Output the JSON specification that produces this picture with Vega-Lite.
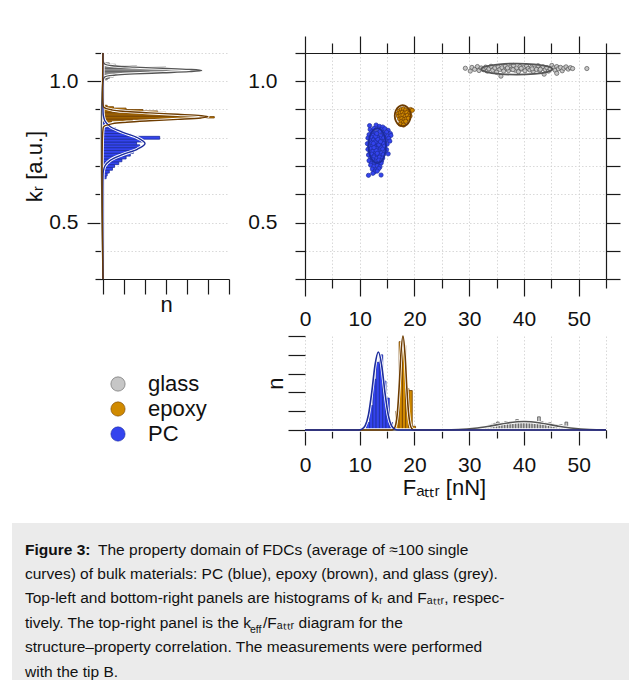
{
  "$schema": "https://vega.github.io/schema/vega-lite/v6.json",
  "background": "white",
  "padding": {"left": 12, "top": 35, "right": 0, "bottom": 0},
  "autosize": {"type": "pad"},
  "config": {
    "font": "Liberation Sans",
    "view": {"stroke": null},
    "axis": {
      "labelFont": "Liberation Sans", "titleFont": "Liberation Sans",
      "labelFontSize": 21, "titleFontSize": 22, "titleFontWeight": "normal",
      "labelColor": "#111", "titleColor": "#111",
      "domainColor": "#1a1a1a", "tickColor": "#1a1a1a", "domainWidth": 1.2, "tickWidth": 1.2,
      "gridColor": "#cfcfcf", "gridDash": [1.5, 2], "gridWidth": 0.8,
      "labelFlush": false, "labelOverlap": false, "labelBound": false
    }
  },
  "datasets": {
    "mats": [{"mat": "glass"}, {"mat": "epoxy"}, {"mat": "PC"}],
    "kHist": [
      {"mat": "glass", "lo": 1.005, "hi": 1.01, "n": 0.2},
      {"mat": "glass", "lo": 1.01, "hi": 1.015, "n": 0.3},
      {"mat": "glass", "lo": 1.015, "hi": 1.02, "n": 0.5},
      {"mat": "glass", "lo": 1.02, "hi": 1.025, "n": 0.6},
      {"mat": "glass", "lo": 1.025, "hi": 1.03, "n": 0.9},
      {"mat": "glass", "lo": 1.03, "hi": 1.035, "n": 2.2},
      {"mat": "glass", "lo": 1.035, "hi": 1.04, "n": 4.7},
      {"mat": "glass", "lo": 1.04, "hi": 1.045, "n": 3.9},
      {"mat": "glass", "lo": 1.045, "hi": 1.05, "n": 3.0},
      {"mat": "glass", "lo": 1.05, "hi": 1.055, "n": 1.6},
      {"mat": "glass", "lo": 1.055, "hi": 1.06, "n": 0.6},
      {"mat": "glass", "lo": 1.06, "hi": 1.065, "n": 0.3},
      {"mat": "epoxy", "lo": 0.855, "hi": 0.86, "n": 0.4},
      {"mat": "epoxy", "lo": 0.86, "hi": 0.865, "n": 1.4},
      {"mat": "epoxy", "lo": 0.865, "hi": 0.87, "n": 3.2},
      {"mat": "epoxy", "lo": 0.87, "hi": 0.875, "n": 5.3},
      {"mat": "epoxy", "lo": 0.875, "hi": 0.88, "n": 4.5},
      {"mat": "epoxy", "lo": 0.88, "hi": 0.885, "n": 3.6},
      {"mat": "epoxy", "lo": 0.885, "hi": 0.89, "n": 3.0},
      {"mat": "epoxy", "lo": 0.89, "hi": 0.895, "n": 2.6},
      {"mat": "epoxy", "lo": 0.895, "hi": 0.9, "n": 1.9},
      {"mat": "epoxy", "lo": 0.9, "hi": 0.905, "n": 1.1},
      {"mat": "epoxy", "lo": 0.905, "hi": 0.91, "n": 0.5},
      {"mat": "epoxy", "lo": 0.91, "hi": 0.915, "n": 0.2},
      {"mat": "PC", "lo": 0.655, "hi": 0.665, "n": 0.15},
      {"mat": "PC", "lo": 0.665, "hi": 0.675, "n": 0.2},
      {"mat": "PC", "lo": 0.675, "hi": 0.685, "n": 0.3},
      {"mat": "PC", "lo": 0.685, "hi": 0.695, "n": 0.45},
      {"mat": "PC", "lo": 0.695, "hi": 0.705, "n": 0.55},
      {"mat": "PC", "lo": 0.705, "hi": 0.715, "n": 0.75},
      {"mat": "PC", "lo": 0.715, "hi": 0.725, "n": 0.9},
      {"mat": "PC", "lo": 0.725, "hi": 0.735, "n": 1.1},
      {"mat": "PC", "lo": 0.735, "hi": 0.745, "n": 1.3},
      {"mat": "PC", "lo": 0.745, "hi": 0.755, "n": 1.45},
      {"mat": "PC", "lo": 0.755, "hi": 0.765, "n": 1.6},
      {"mat": "PC", "lo": 0.765, "hi": 0.775, "n": 1.75},
      {"mat": "PC", "lo": 0.775, "hi": 0.785, "n": 1.6},
      {"mat": "PC", "lo": 0.785, "hi": 0.795, "n": 1.9},
      {"mat": "PC", "lo": 0.795, "hi": 0.805, "n": 2.7},
      {"mat": "PC", "lo": 0.805, "hi": 0.815, "n": 1.3},
      {"mat": "PC", "lo": 0.815, "hi": 0.825, "n": 0.9},
      {"mat": "PC", "lo": 0.825, "hi": 0.835, "n": 0.6},
      {"mat": "PC", "lo": 0.835, "hi": 0.845, "n": 0.3},
      {"mat": "PC", "lo": 0.845, "hi": 0.855, "n": 0.1}
    ],
    "kFit": [
      {"mat": "glass", "k": 0.3, "n": 0},
      {"mat": "glass", "k": 1.0, "n": 0},
      {"mat": "glass", "k": 1.015, "n": 0.08},
      {"mat": "glass", "k": 1.022, "n": 0.6},
      {"mat": "glass", "k": 1.026, "n": 1.5},
      {"mat": "glass", "k": 1.03, "n": 2.85},
      {"mat": "glass", "k": 1.034, "n": 4.1},
      {"mat": "glass", "k": 1.038, "n": 4.7},
      {"mat": "glass", "k": 1.042, "n": 4.1},
      {"mat": "glass", "k": 1.046, "n": 2.85},
      {"mat": "glass", "k": 1.05, "n": 1.5},
      {"mat": "glass", "k": 1.054, "n": 0.6},
      {"mat": "glass", "k": 1.061, "n": 0.08},
      {"mat": "glass", "k": 1.075, "n": 0},
      {"mat": "glass", "k": 1.1, "n": 0},
      {"mat": "PC", "k": 0.3, "n": 0},
      {"mat": "PC", "k": 0.66, "n": 0},
      {"mat": "PC", "k": 0.68, "n": 0.015},
      {"mat": "PC", "k": 0.7, "n": 0.088},
      {"mat": "PC", "k": 0.72, "n": 0.34},
      {"mat": "PC", "k": 0.74, "n": 0.92},
      {"mat": "PC", "k": 0.76, "n": 1.65},
      {"mat": "PC", "k": 0.78, "n": 2.0},
      {"mat": "PC", "k": 0.8, "n": 1.65},
      {"mat": "PC", "k": 0.82, "n": 0.92},
      {"mat": "PC", "k": 0.84, "n": 0.34},
      {"mat": "PC", "k": 0.86, "n": 0.088},
      {"mat": "PC", "k": 0.88, "n": 0.015},
      {"mat": "PC", "k": 0.9, "n": 0},
      {"mat": "PC", "k": 1.1, "n": 0},
      {"mat": "epoxy", "k": 0.3, "n": 0},
      {"mat": "epoxy", "k": 0.83, "n": 0},
      {"mat": "epoxy", "k": 0.84, "n": 0.04},
      {"mat": "epoxy", "k": 0.85, "n": 0.46},
      {"mat": "epoxy", "k": 0.855, "n": 1.13},
      {"mat": "epoxy", "k": 0.86, "n": 2.22},
      {"mat": "epoxy", "k": 0.865, "n": 3.56},
      {"mat": "epoxy", "k": 0.87, "n": 4.67},
      {"mat": "epoxy", "k": 0.874, "n": 5.0},
      {"mat": "epoxy", "k": 0.878, "n": 4.67},
      {"mat": "epoxy", "k": 0.883, "n": 3.56},
      {"mat": "epoxy", "k": 0.888, "n": 2.22},
      {"mat": "epoxy", "k": 0.893, "n": 1.13},
      {"mat": "epoxy", "k": 0.898, "n": 0.46},
      {"mat": "epoxy", "k": 0.908, "n": 0.04},
      {"mat": "epoxy", "k": 0.92, "n": 0},
      {"mat": "epoxy", "k": 1.1, "n": 0}
    ],
    "fHist": [
      {"mat": "glass", "lo": 29.0, "hi": 29.5, "n": 0.05},
      {"mat": "glass", "lo": 29.5, "hi": 30.0, "n": 0.08},
      {"mat": "glass", "lo": 30.0, "hi": 30.5, "n": 0.05},
      {"mat": "glass", "lo": 30.5, "hi": 31.0, "n": 0.1},
      {"mat": "glass", "lo": 31.0, "hi": 31.5, "n": 0.1},
      {"mat": "glass", "lo": 31.5, "hi": 32.0, "n": 0.12},
      {"mat": "glass", "lo": 32.0, "hi": 32.5, "n": 0.15},
      {"mat": "glass", "lo": 32.5, "hi": 33.0, "n": 0.18},
      {"mat": "glass", "lo": 33.0, "hi": 33.5, "n": 0.2},
      {"mat": "glass", "lo": 33.5, "hi": 34.0, "n": 0.25},
      {"mat": "glass", "lo": 34.0, "hi": 34.5, "n": 0.3},
      {"mat": "glass", "lo": 34.5, "hi": 35.0, "n": 0.35},
      {"mat": "glass", "lo": 35.0, "hi": 35.5, "n": 0.42},
      {"mat": "glass", "lo": 35.5, "hi": 36.0, "n": 0.32},
      {"mat": "glass", "lo": 36.0, "hi": 36.5, "n": 0.4},
      {"mat": "glass", "lo": 36.5, "hi": 37.0, "n": 0.45},
      {"mat": "glass", "lo": 37.0, "hi": 37.5, "n": 0.4},
      {"mat": "glass", "lo": 37.5, "hi": 38.0, "n": 0.45},
      {"mat": "glass", "lo": 38.0, "hi": 38.5, "n": 0.4},
      {"mat": "glass", "lo": 38.5, "hi": 39.0, "n": 0.55},
      {"mat": "glass", "lo": 39.0, "hi": 39.5, "n": 0.45},
      {"mat": "glass", "lo": 39.5, "hi": 40.0, "n": 0.42},
      {"mat": "glass", "lo": 40.0, "hi": 40.5, "n": 0.48},
      {"mat": "glass", "lo": 40.5, "hi": 41.0, "n": 0.45},
      {"mat": "glass", "lo": 41.0, "hi": 41.5, "n": 0.4},
      {"mat": "glass", "lo": 41.5, "hi": 42.0, "n": 0.45},
      {"mat": "glass", "lo": 42.0, "hi": 42.5, "n": 0.42},
      {"mat": "glass", "lo": 42.5, "hi": 43.0, "n": 0.7},
      {"mat": "glass", "lo": 43.0, "hi": 43.5, "n": 0.45},
      {"mat": "glass", "lo": 43.5, "hi": 44.0, "n": 0.4},
      {"mat": "glass", "lo": 44.0, "hi": 44.5, "n": 0.35},
      {"mat": "glass", "lo": 44.5, "hi": 45.0, "n": 0.38},
      {"mat": "glass", "lo": 45.0, "hi": 45.5, "n": 0.3},
      {"mat": "glass", "lo": 45.5, "hi": 46.0, "n": 0.28},
      {"mat": "glass", "lo": 46.0, "hi": 46.5, "n": 0.25},
      {"mat": "glass", "lo": 46.5, "hi": 47.0, "n": 0.28},
      {"mat": "glass", "lo": 47.0, "hi": 47.5, "n": 0.22},
      {"mat": "glass", "lo": 47.5, "hi": 48.0, "n": 0.42},
      {"mat": "glass", "lo": 48.0, "hi": 48.5, "n": 0.15},
      {"mat": "glass", "lo": 48.5, "hi": 49.0, "n": 0.1},
      {"mat": "glass", "lo": 49.0, "hi": 49.5, "n": 0.05},
      {"mat": "epoxy", "lo": 16.6, "hi": 17.2, "n": 1.0},
      {"mat": "epoxy", "lo": 17.2, "hi": 17.8, "n": 4.7},
      {"mat": "epoxy", "lo": 17.8, "hi": 18.4, "n": 4.5},
      {"mat": "epoxy", "lo": 18.4, "hi": 19.0, "n": 2.2},
      {"mat": "epoxy", "lo": 19.0, "hi": 19.6, "n": 2.1},
      {"mat": "epoxy", "lo": 19.6, "hi": 20.2, "n": 0.2},
      {"mat": "PC", "lo": 11.2, "hi": 11.8, "n": 0.4},
      {"mat": "PC", "lo": 11.8, "hi": 12.4, "n": 1.3},
      {"mat": "PC", "lo": 12.4, "hi": 13.0, "n": 2.7},
      {"mat": "PC", "lo": 13.0, "hi": 13.6, "n": 3.6},
      {"mat": "PC", "lo": 13.6, "hi": 14.2, "n": 4.0},
      {"mat": "PC", "lo": 14.2, "hi": 14.8, "n": 2.6},
      {"mat": "PC", "lo": 14.8, "hi": 15.4, "n": 1.7},
      {"mat": "PC", "lo": 15.4, "hi": 16.0, "n": 0.4}
    ],
    "fFit": [
      {"mat": "glass", "F": 0, "n": 0},
      {"mat": "glass", "F": 22, "n": 0},
      {"mat": "glass", "F": 25, "n": 0.005},
      {"mat": "glass", "F": 28, "n": 0.025},
      {"mat": "glass", "F": 31, "n": 0.09},
      {"mat": "glass", "F": 34, "n": 0.22},
      {"mat": "glass", "F": 37, "n": 0.375},
      {"mat": "glass", "F": 40, "n": 0.45},
      {"mat": "glass", "F": 43, "n": 0.375},
      {"mat": "glass", "F": 46, "n": 0.22},
      {"mat": "glass", "F": 49, "n": 0.09},
      {"mat": "glass", "F": 52, "n": 0.025},
      {"mat": "glass", "F": 55, "n": 0.005},
      {"mat": "epoxy", "F": 0, "n": 0},
      {"mat": "epoxy", "F": 15.8, "n": 0},
      {"mat": "epoxy", "F": 16.25, "n": 0.06},
      {"mat": "epoxy", "F": 16.6, "n": 0.31},
      {"mat": "epoxy", "F": 16.9, "n": 0.98},
      {"mat": "epoxy", "F": 17.2, "n": 2.27},
      {"mat": "epoxy", "F": 17.5, "n": 3.92},
      {"mat": "epoxy", "F": 17.9, "n": 5.0},
      {"mat": "epoxy", "F": 18.3, "n": 3.92},
      {"mat": "epoxy", "F": 18.6, "n": 2.27},
      {"mat": "epoxy", "F": 18.9, "n": 0.98},
      {"mat": "epoxy", "F": 19.2, "n": 0.31},
      {"mat": "epoxy", "F": 19.55, "n": 0.06},
      {"mat": "epoxy", "F": 20.0, "n": 0},
      {"mat": "epoxy", "F": 55, "n": 0},
      {"mat": "PC", "F": 0, "n": 0},
      {"mat": "PC", "F": 9.8, "n": 0},
      {"mat": "PC", "F": 10.4, "n": 0.046},
      {"mat": "PC", "F": 11.0, "n": 0.23},
      {"mat": "PC", "F": 11.6, "n": 0.82},
      {"mat": "PC", "F": 12.2, "n": 2.02},
      {"mat": "PC", "F": 12.8, "n": 3.47},
      {"mat": "PC", "F": 13.4, "n": 4.15},
      {"mat": "PC", "F": 14.0, "n": 3.47},
      {"mat": "PC", "F": 14.6, "n": 2.02},
      {"mat": "PC", "F": 15.2, "n": 0.82},
      {"mat": "PC", "F": 15.8, "n": 0.23},
      {"mat": "PC", "F": 16.4, "n": 0.046},
      {"mat": "PC", "F": 17.0, "n": 0},
      {"mat": "PC", "F": 55, "n": 0}
    ],
    "pts": [
      {"mat": "glass", "F": 29.3, "k": 1.046}, {"mat": "glass", "F": 30.2, "k": 1.036}, {"mat": "glass", "F": 30.5, "k": 1.049},
      {"mat": "glass", "F": 31.0, "k": 1.042}, {"mat": "glass", "F": 31.5, "k": 1.052}, {"mat": "glass", "F": 31.8, "k": 1.038},
      {"mat": "glass", "F": 32.2, "k": 1.047}, {"mat": "glass", "F": 32.6, "k": 1.041}, {"mat": "glass", "F": 33.0, "k": 1.05},
      {"mat": "glass", "F": 33.3, "k": 1.036}, {"mat": "glass", "F": 33.6, "k": 1.044}, {"mat": "glass", "F": 34.0, "k": 1.053},
      {"mat": "glass", "F": 34.3, "k": 1.039}, {"mat": "glass", "F": 34.7, "k": 1.047}, {"mat": "glass", "F": 35.0, "k": 1.032},
      {"mat": "glass", "F": 35.3, "k": 1.051}, {"mat": "glass", "F": 35.6, "k": 1.042}, {"mat": "glass", "F": 35.8, "k": 1.018},
      {"mat": "glass", "F": 36.0, "k": 1.048}, {"mat": "glass", "F": 36.3, "k": 1.036}, {"mat": "glass", "F": 36.6, "k": 1.054},
      {"mat": "glass", "F": 36.9, "k": 1.044}, {"mat": "glass", "F": 37.2, "k": 1.038}, {"mat": "glass", "F": 37.5, "k": 1.05},
      {"mat": "glass", "F": 37.8, "k": 1.043}, {"mat": "glass", "F": 38.1, "k": 1.056}, {"mat": "glass", "F": 38.4, "k": 1.039},
      {"mat": "glass", "F": 38.7, "k": 1.047}, {"mat": "glass", "F": 39.0, "k": 1.034}, {"mat": "glass", "F": 39.3, "k": 1.052},
      {"mat": "glass", "F": 39.6, "k": 1.043}, {"mat": "glass", "F": 39.9, "k": 1.048}, {"mat": "glass", "F": 40.2, "k": 1.037},
      {"mat": "glass", "F": 40.5, "k": 1.054}, {"mat": "glass", "F": 40.8, "k": 1.045}, {"mat": "glass", "F": 41.1, "k": 1.04},
      {"mat": "glass", "F": 41.4, "k": 1.05}, {"mat": "glass", "F": 41.7, "k": 1.035}, {"mat": "glass", "F": 42.0, "k": 1.047},
      {"mat": "glass", "F": 42.3, "k": 1.042}, {"mat": "glass", "F": 42.6, "k": 1.055}, {"mat": "glass", "F": 42.9, "k": 1.038},
      {"mat": "glass", "F": 43.2, "k": 1.046}, {"mat": "glass", "F": 43.5, "k": 1.051}, {"mat": "glass", "F": 43.7, "k": 1.025},
      {"mat": "glass", "F": 43.9, "k": 1.041}, {"mat": "glass", "F": 44.2, "k": 1.048}, {"mat": "glass", "F": 44.5, "k": 1.036},
      {"mat": "glass", "F": 44.8, "k": 1.044}, {"mat": "glass", "F": 45.1, "k": 1.056}, {"mat": "glass", "F": 45.4, "k": 1.047},
      {"mat": "glass", "F": 45.7, "k": 1.039}, {"mat": "glass", "F": 46.0, "k": 1.052}, {"mat": "glass", "F": 46.0, "k": 1.028},
      {"mat": "glass", "F": 46.3, "k": 1.044}, {"mat": "glass", "F": 46.7, "k": 1.049}, {"mat": "glass", "F": 47.0, "k": 1.037},
      {"mat": "glass", "F": 47.3, "k": 1.046}, {"mat": "glass", "F": 47.7, "k": 1.051}, {"mat": "glass", "F": 48.1, "k": 1.043},
      {"mat": "glass", "F": 48.5, "k": 1.048}, {"mat": "glass", "F": 48.9, "k": 1.045}, {"mat": "glass", "F": 51.5, "k": 1.045},
      {"mat": "glass", "F": 37.0, "k": 1.047}, {"mat": "glass", "F": 39.5, "k": 1.046}, {"mat": "glass", "F": 41.5, "k": 1.044},
      {"mat": "glass", "F": 43.0, "k": 1.042}, {"mat": "glass", "F": 38.0, "k": 1.041},
      {"mat": "epoxy", "F": 17.2, "k": 0.895}, {"mat": "epoxy", "F": 17.6, "k": 0.9}, {"mat": "epoxy", "F": 18.0, "k": 0.902},
      {"mat": "epoxy", "F": 18.4, "k": 0.898}, {"mat": "epoxy", "F": 18.9, "k": 0.895}, {"mat": "epoxy", "F": 19.3, "k": 0.9},
      {"mat": "epoxy", "F": 19.6, "k": 0.897}, {"mat": "epoxy", "F": 17.0, "k": 0.885}, {"mat": "epoxy", "F": 17.4, "k": 0.888},
      {"mat": "epoxy", "F": 17.8, "k": 0.89}, {"mat": "epoxy", "F": 18.2, "k": 0.887}, {"mat": "epoxy", "F": 18.6, "k": 0.889},
      {"mat": "epoxy", "F": 19.1, "k": 0.886}, {"mat": "epoxy", "F": 17.1, "k": 0.876}, {"mat": "epoxy", "F": 17.5, "k": 0.878},
      {"mat": "epoxy", "F": 17.9, "k": 0.88}, {"mat": "epoxy", "F": 18.3, "k": 0.876}, {"mat": "epoxy", "F": 18.7, "k": 0.879},
      {"mat": "epoxy", "F": 19.2, "k": 0.877}, {"mat": "epoxy", "F": 17.3, "k": 0.866}, {"mat": "epoxy", "F": 17.7, "k": 0.868},
      {"mat": "epoxy", "F": 18.1, "k": 0.865}, {"mat": "epoxy", "F": 18.5, "k": 0.867}, {"mat": "epoxy", "F": 18.9, "k": 0.869},
      {"mat": "epoxy", "F": 17.6, "k": 0.857}, {"mat": "epoxy", "F": 18.0, "k": 0.855}, {"mat": "epoxy", "F": 18.4, "k": 0.858},
      {"mat": "epoxy", "F": 17.4, "k": 0.848}, {"mat": "epoxy", "F": 18.0, "k": 0.845},
      {"mat": "PC", "F": 11.8, "k": 0.843}, {"mat": "PC", "F": 13.0, "k": 0.845}, {"mat": "PC", "F": 13.6, "k": 0.84}, {"mat": "PC", "F": 14.2, "k": 0.838},
      {"mat": "PC", "F": 11.9, "k": 0.829}, {"mat": "PC", "F": 12.6, "k": 0.833}, {"mat": "PC", "F": 13.4, "k": 0.831}, {"mat": "PC", "F": 14.0, "k": 0.828}, {"mat": "PC", "F": 14.6, "k": 0.832}, {"mat": "PC", "F": 15.2, "k": 0.826},
      {"mat": "PC", "F": 12.2, "k": 0.821}, {"mat": "PC", "F": 12.9, "k": 0.818}, {"mat": "PC", "F": 13.7, "k": 0.822}, {"mat": "PC", "F": 14.3, "k": 0.817}, {"mat": "PC", "F": 14.9, "k": 0.82}, {"mat": "PC", "F": 15.6, "k": 0.815},
      {"mat": "PC", "F": 11.7, "k": 0.811}, {"mat": "PC", "F": 12.4, "k": 0.808}, {"mat": "PC", "F": 13.1, "k": 0.812}, {"mat": "PC", "F": 13.9, "k": 0.807}, {"mat": "PC", "F": 14.5, "k": 0.81}, {"mat": "PC", "F": 15.1, "k": 0.806}, {"mat": "PC", "F": 15.7, "k": 0.808},
      {"mat": "PC", "F": 11.5, "k": 0.799}, {"mat": "PC", "F": 12.1, "k": 0.802}, {"mat": "PC", "F": 12.7, "k": 0.797}, {"mat": "PC", "F": 13.3, "k": 0.801}, {"mat": "PC", "F": 13.8, "k": 0.796}, {"mat": "PC", "F": 14.4, "k": 0.8}, {"mat": "PC", "F": 15.3, "k": 0.798},
      {"mat": "PC", "F": 11.9, "k": 0.789}, {"mat": "PC", "F": 12.5, "k": 0.792}, {"mat": "PC", "F": 13.0, "k": 0.787}, {"mat": "PC", "F": 13.5, "k": 0.791}, {"mat": "PC", "F": 14.1, "k": 0.786}, {"mat": "PC", "F": 14.7, "k": 0.79}, {"mat": "PC", "F": 15.5, "k": 0.788},
      {"mat": "PC", "F": 11.4, "k": 0.779}, {"mat": "PC", "F": 12.2, "k": 0.782}, {"mat": "PC", "F": 12.7, "k": 0.776}, {"mat": "PC", "F": 13.2, "k": 0.781}, {"mat": "PC", "F": 13.7, "k": 0.777}, {"mat": "PC", "F": 14.3, "k": 0.78}, {"mat": "PC", "F": 15.0, "k": 0.777},
      {"mat": "PC", "F": 11.8, "k": 0.769}, {"mat": "PC", "F": 12.4, "k": 0.772}, {"mat": "PC", "F": 12.9, "k": 0.767}, {"mat": "PC", "F": 13.4, "k": 0.771}, {"mat": "PC", "F": 13.9, "k": 0.766}, {"mat": "PC", "F": 14.5, "k": 0.77},
      {"mat": "PC", "F": 11.5, "k": 0.759}, {"mat": "PC", "F": 12.1, "k": 0.762}, {"mat": "PC", "F": 12.6, "k": 0.757}, {"mat": "PC", "F": 13.1, "k": 0.761}, {"mat": "PC", "F": 13.6, "k": 0.756}, {"mat": "PC", "F": 14.2, "k": 0.76}, {"mat": "PC", "F": 14.9, "k": 0.758},
      {"mat": "PC", "F": 11.9, "k": 0.749}, {"mat": "PC", "F": 12.4, "k": 0.752}, {"mat": "PC", "F": 12.9, "k": 0.747}, {"mat": "PC", "F": 13.4, "k": 0.751}, {"mat": "PC", "F": 13.9, "k": 0.746}, {"mat": "PC", "F": 14.6, "k": 0.75},
      {"mat": "PC", "F": 11.6, "k": 0.739}, {"mat": "PC", "F": 12.2, "k": 0.742}, {"mat": "PC", "F": 12.7, "k": 0.737}, {"mat": "PC", "F": 13.2, "k": 0.741}, {"mat": "PC", "F": 13.7, "k": 0.736}, {"mat": "PC", "F": 14.3, "k": 0.74}, {"mat": "PC", "F": 15.2, "k": 0.743},
      {"mat": "PC", "F": 12.0, "k": 0.729}, {"mat": "PC", "F": 12.6, "k": 0.732}, {"mat": "PC", "F": 13.1, "k": 0.727}, {"mat": "PC", "F": 13.6, "k": 0.731}, {"mat": "PC", "F": 14.2, "k": 0.728},
      {"mat": "PC", "F": 11.7, "k": 0.719}, {"mat": "PC", "F": 12.4, "k": 0.722}, {"mat": "PC", "F": 12.9, "k": 0.717}, {"mat": "PC", "F": 13.5, "k": 0.721}, {"mat": "PC", "F": 14.0, "k": 0.718},
      {"mat": "PC", "F": 12.1, "k": 0.709}, {"mat": "PC", "F": 12.7, "k": 0.712}, {"mat": "PC", "F": 13.3, "k": 0.707}, {"mat": "PC", "F": 13.9, "k": 0.71},
      {"mat": "PC", "F": 12.0, "k": 0.703}, {"mat": "PC", "F": 12.6, "k": 0.699}, {"mat": "PC", "F": 13.2, "k": 0.701}, {"mat": "PC", "F": 13.7, "k": 0.697},
      {"mat": "PC", "F": 12.3, "k": 0.689}, {"mat": "PC", "F": 12.9, "k": 0.686}, {"mat": "PC", "F": 13.5, "k": 0.691},
      {"mat": "PC", "F": 12.7, "k": 0.679}, {"mat": "PC", "F": 13.2, "k": 0.682},
      {"mat": "PC", "F": 11.6, "k": 0.667}, {"mat": "PC", "F": 13.9, "k": 0.668}, {"mat": "PC", "F": 12.4, "k": 0.674},
      {"mat": "PC", "F": 12.8, "k": 0.785}, {"mat": "PC", "F": 13.0, "k": 0.755}, {"mat": "PC", "F": 13.3, "k": 0.795}, {"mat": "PC", "F": 12.6, "k": 0.765},
      {"mat": "PC", "F": 13.5, "k": 0.775}, {"mat": "PC", "F": 12.9, "k": 0.805}, {"mat": "PC", "F": 13.2, "k": 0.745}, {"mat": "PC", "F": 12.5, "k": 0.78},
      {"mat": "PC", "F": 13.8, "k": 0.786}, {"mat": "PC", "F": 13.1, "k": 0.815}
    ],
    "ell": [
      {"mat": "glass", "i": 0, "F": 45.2, "k": 1.043}, {"mat": "glass", "i": 1, "F": 44.33, "k": 1.0528},
      {"mat": "glass", "i": 2, "F": 41.95, "k": 1.0599}, {"mat": "glass", "i": 3, "F": 38.7, "k": 1.0625},
      {"mat": "glass", "i": 4, "F": 35.45, "k": 1.0599}, {"mat": "glass", "i": 5, "F": 33.07, "k": 1.0528},
      {"mat": "glass", "i": 6, "F": 32.2, "k": 1.043}, {"mat": "glass", "i": 7, "F": 33.07, "k": 1.0333},
      {"mat": "glass", "i": 8, "F": 35.45, "k": 1.0261}, {"mat": "glass", "i": 9, "F": 38.7, "k": 1.0235},
      {"mat": "glass", "i": 10, "F": 41.95, "k": 1.0261}, {"mat": "glass", "i": 11, "F": 44.33, "k": 1.0333},
      {"mat": "epoxy", "i": 0, "F": 19.3, "k": 0.878}, {"mat": "epoxy", "i": 1, "F": 19.106, "k": 0.8965},
      {"mat": "epoxy", "i": 2, "F": 18.575, "k": 0.91}, {"mat": "epoxy", "i": 3, "F": 17.85, "k": 0.915},
      {"mat": "epoxy", "i": 4, "F": 17.125, "k": 0.91}, {"mat": "epoxy", "i": 5, "F": 16.594, "k": 0.8965},
      {"mat": "epoxy", "i": 6, "F": 16.4, "k": 0.878}, {"mat": "epoxy", "i": 7, "F": 16.594, "k": 0.8595},
      {"mat": "epoxy", "i": 8, "F": 17.125, "k": 0.846}, {"mat": "epoxy", "i": 9, "F": 17.85, "k": 0.841},
      {"mat": "epoxy", "i": 10, "F": 18.575, "k": 0.846}, {"mat": "epoxy", "i": 11, "F": 19.106, "k": 0.8595},
      {"mat": "PC", "i": 0, "F": 14.8, "k": 0.772}, {"mat": "PC", "i": 1, "F": 14.586, "k": 0.803},
      {"mat": "PC", "i": 2, "F": 14.0, "k": 0.8257}, {"mat": "PC", "i": 3, "F": 13.2, "k": 0.834},
      {"mat": "PC", "i": 4, "F": 12.4, "k": 0.8257}, {"mat": "PC", "i": 5, "F": 11.814, "k": 0.803},
      {"mat": "PC", "i": 6, "F": 11.6, "k": 0.772}, {"mat": "PC", "i": 7, "F": 11.814, "k": 0.741},
      {"mat": "PC", "i": 8, "F": 12.4, "k": 0.7183}, {"mat": "PC", "i": 9, "F": 13.2, "k": 0.71},
      {"mat": "PC", "i": 10, "F": 14.0, "k": 0.7183}, {"mat": "PC", "i": 11, "F": 14.586, "k": 0.741}
    ],
    "capBold": [{"line": 1, "text": "Figure 3:"}],
    "capFirst": [{"line": 1, "text": "The property domain of FDCs (average of ≈100 single"}],
    "capLines": [
      {"line": 2, "text": "curves) of bulk materials: PC (blue), epoxy (brown), and glass (grey)."},
      {"line": 3, "text": "Top-left and bottom-right panels are histograms of kᵣ and Fₐₜₜᵣ, respec-"},
      {"line": 4, "text": "tively. The top-right panel is the k"},
      {"line": 5, "text": "structure–property correlation. The measurements were performed"},
      {"line": 6, "text": "with the tip B."}
    ],
    "capSub": [{"line": 4, "text": "eff"}],
    "capAfter": [{"line": 4, "text": "/Fₐₜₜᵣ diagram for the"}],
    "empty": []
  },
  "resolve": {"scale": {"x": "independent", "y": "independent", "fill": "shared", "stroke": "shared"}},
  "bounds": "full",
  "spacing": 25,
  "vconcat": [
    {
      "columns": 3,
      "bounds": "flush",
      "spacing": {"row": 57, "column": 76},
      "resolve": {"scale": {"x": "independent", "y": "independent", "fill": "shared", "stroke": "shared"}},
      "concat": [
        {"width": 15, "height": 226, "data": {"name": "empty"}, "mark": "point"},
        {
          "width": 126, "height": 226,
          "resolve": {"axis": {"x": "independent", "y": "independent"}},
          "layer": [
            {
              "data": {"name": "kHist"},
              "mark": {"type": "bar", "orient": "horizontal", "strokeWidth": 0.8},
              "encoding": {
                "y": {"field": "lo", "type": "quantitative",
                  "scale": {"domain": [0.3, 1.1], "nice": false, "zero": false, "padding": 0},
                  "axis": {"orient": "left", "values": [0.3, 0.4, 0.5, 0.6, 0.7, 0.8, 0.9, 1.0, 1.1], "grid": true,
                    "tickSize": {"condition": {"test": "abs(datum.value - 0.5) < 0.001 || abs(datum.value - 1) < 0.001", "value": 16}, "value": 8},
                    "labelExpr": "(abs(datum.value - 0.5) < 0.001 || abs(datum.value - 1) < 0.001) ? format(datum.value, '.1f') : ''",
                    "labelPadding": 9, "title": "kᵣ [a.u.]", "titlePadding": 2}},
                "y2": {"field": "hi"},
                "x": {"field": "n", "type": "quantitative", "scale": {"domain": [0, 6], "nice": false, "padding": 0},
                  "axis": {"orient": "bottom", "values": [0, 1, 2, 3, 4, 5, 6], "labels": false, "grid": false, "tickSize": 15, "title": "n", "titlePadding": 0}},
                "fill": {"field": "mat", "type": "nominal", "scale": {"domain": ["glass", "epoxy", "PC"], "range": ["#c6c6c6", "#d08a00", "#3444ee"]}, "legend": null},
                "stroke": {"field": "mat", "type": "nominal", "scale": {"domain": ["glass", "epoxy", "PC"], "range": ["#555555", "#6e3c00", "#1c2c9c"]}, "legend": null}
              }
            },
            {
              "data": {"name": "kFit"},
              "mark": {"type": "line", "interpolate": "catmull-rom", "color": "white", "strokeWidth": 3.2},
              "encoding": {
                "x": {"field": "n", "type": "quantitative", "axis": null},
                "y": {"field": "k", "type": "quantitative", "axis": null},
                "detail": {"field": "mat"},
                "order": {"field": "k"}
              }
            },
            {
              "data": {"name": "kFit"},
              "mark": {"type": "line", "interpolate": "catmull-rom", "strokeWidth": 1.4},
              "encoding": {
                "x": {"field": "n", "type": "quantitative", "axis": null},
                "y": {"field": "k", "type": "quantitative", "axis": null},
                "stroke": {"field": "mat", "type": "nominal", "legend": null},
                "order": {"field": "k"}
              }
            }
          ]
        },
        {
          "width": 301, "height": 226,
          "layer": [
            {
              "data": {"name": "pts"},
              "mark": {"type": "point", "filled": true, "size": 18, "strokeWidth": 0.7, "opacity": 1},
              "encoding": {
                "x": {"field": "F", "type": "quantitative", "scale": {"domain": [0, 55], "nice": false, "zero": false, "padding": 0},
                  "axis": {"orient": "bottom", "values": [0, 5, 10, 15, 20, 25, 30, 35, 40, 45, 50, 55], "grid": true,
                    "tickSize": {"condition": {"test": "datum.value % 10 === 0", "value": 17}, "value": 9},
                    "labelExpr": "datum.value % 10 === 0 ? datum.label : ''", "labelPadding": 12, "title": null}},
                "y": {"field": "k", "type": "quantitative", "scale": {"domain": [0.3, 1.1], "nice": false, "zero": false, "padding": 0},
                  "axis": {"orient": "left", "values": [0.3, 0.4, 0.5, 0.6, 0.7, 0.8, 0.9, 1.0, 1.1], "grid": true, "tickSize": 10,
                    "labelExpr": "(abs(datum.value - 0.5) < 0.001 || abs(datum.value - 1) < 0.001) ? format(datum.value, '.1f') : ''",
                    "labelPadding": 18, "title": null}},
                "fill": {"field": "mat", "type": "nominal", "scale": {"domain": ["glass", "epoxy", "PC"], "range": ["#c6c6c6", "#d08a00", "#3444ee"]}, "legend": null},
                "stroke": {"field": "mat", "type": "nominal", "scale": {"domain": ["glass", "epoxy", "PC"], "range": ["#555555", "#6e3c00", "#1c2c9c"]}, "legend": null}
              }
            },
            {
              "data": {"name": "ell"},
              "mark": {"type": "line", "interpolate": "cardinal-closed", "strokeWidth": 1.8},
              "encoding": {
                "x": {"field": "F", "type": "quantitative",
                  "axis": {"orient": "top", "values": [0, 5, 10, 15, 20, 25, 30, 35, 40, 45, 50, 55], "grid": false, "labels": false,
                    "tickSize": {"condition": {"test": "datum.value % 10 === 0", "value": 17}, "value": 10}, "title": null}},
                "y": {"field": "k", "type": "quantitative",
                  "axis": {"orient": "right", "values": [0.3, 0.4, 0.5, 0.6, 0.7, 0.8, 0.9, 1.0, 1.1], "grid": false, "labels": false, "tickSize": 14, "title": null}},
                "stroke": {"field": "mat", "type": "nominal", "legend": null},
                "order": {"field": "i"}
              }
            }
          ],
          "resolve": {"axis": {"x": "independent", "y": "independent"}}
        },
        {"width": 15, "height": 94, "data": {"name": "empty"}, "mark": "point"},
        {
          "width": 126, "height": 94,
          "data": {"name": "mats"},
          "encoding": {
            "y": {"field": "mat", "type": "nominal", "scale": {"type": "point", "domain": ["glass", "epoxy", "PC"], "range": [48, 98], "padding": 0}, "axis": null},
            "x": {"datum": 0, "type": "quantitative", "scale": {"domain": [-15, 111], "nice": false, "zero": false}, "axis": null}
          },
          "layer": [
            {
              "mark": {"type": "point", "filled": true, "size": 204, "strokeWidth": 1, "opacity": 1, "strokeOpacity": 0.55},
              "encoding": {
                "fill": {"field": "mat", "type": "nominal", "legend": null},
                "stroke": {"field": "mat", "type": "nominal", "legend": null}
              }
            },
            {
              "mark": {"type": "text", "align": "left", "baseline": "middle", "fontSize": 22, "dx": 30, "color": "#111"},
              "encoding": {"text": {"field": "mat"}}
            }
          ]
        },
        {
          "width": 301, "height": 94,
          "resolve": {"axis": {"x": "independent", "y": "independent"}},
          "layer": [
            {
              "data": {"name": "fHist"},
              "mark": {"type": "bar", "orient": "vertical", "strokeWidth": 0.8},
              "encoding": {
                "x": {"field": "lo", "type": "quantitative", "scale": {"domain": [0, 55], "nice": false, "zero": false, "padding": 0},
                  "axis": {"orient": "bottom", "values": [0, 5, 10, 15, 20, 25, 30, 35, 40, 45, 50, 55], "grid": true,
                    "tickSize": {"condition": {"test": "datum.value % 10 === 0", "value": 15}, "value": 8},
                    "labelExpr": "datum.value % 10 === 0 ? datum.label : ''", "labelPadding": 9,
                    "title": "Fₐₜₜᵣ [nN]", "titlePadding": 2, "titleX": 139}},
                "x2": {"field": "hi"},
                "y": {"field": "n", "type": "quantitative", "scale": {"domain": [0, 5], "nice": false, "padding": 0},
                  "axis": {"orient": "left", "values": [0, 1, 2, 3, 4, 5], "labels": false, "domain": false, "grid": false, "tickSize": 17, "title": "n", "titlePadding": 0}},
                "fill": {"field": "mat", "type": "nominal", "scale": {"domain": ["glass", "epoxy", "PC"], "range": ["#c6c6c6", "#d08a00", "#3444ee"]}, "legend": null},
                "stroke": {"field": "mat", "type": "nominal", "scale": {"domain": ["glass", "epoxy", "PC"], "range": ["#555555", "#6e3c00", "#1c2c9c"]}, "legend": null}
              }
            },
            {
              "data": {"name": "fFit"},
              "mark": {"type": "line", "interpolate": "monotone", "color": "white", "strokeWidth": 3.2},
              "encoding": {
                "x": {"field": "F", "type": "quantitative", "axis": null},
                "y": {"field": "n", "type": "quantitative", "axis": null},
                "detail": {"field": "mat"}
              }
            },
            {
              "data": {"name": "fFit"},
              "mark": {"type": "line", "interpolate": "monotone", "strokeWidth": 1.6},
              "encoding": {
                "x": {"field": "F", "type": "quantitative", "axis": null},
                "y": {"field": "n", "type": "quantitative", "axis": null},
                "stroke": {"field": "mat", "type": "nominal", "legend": null}
              }
            }
          ]
        }
      ]
    },
    {
      "width": 617, "height": 157,
      "view": {"fill": "#ebebeb", "stroke": null},
      "encoding": {
        "y": {"field": "line", "type": "quantitative", "scale": {"domain": [-0.291, 6.143], "reverse": true}, "axis": null},
        "x": {"datum": 0, "type": "quantitative", "scale": {"domain": [0, 1]}, "axis": null},
        "text": {"field": "text"}
      },
      "layer": [
        {"data": {"name": "capBold"}, "mark": {"type": "text", "align": "left", "baseline": "alphabetic", "fontSize": 15.5, "fontWeight": "bold", "dx": 13, "color": "#111"}},
        {"data": {"name": "capFirst"}, "mark": {"type": "text", "align": "left", "baseline": "alphabetic", "fontSize": 15.5, "dx": 86, "color": "#111"}},
        {"data": {"name": "capLines"}, "mark": {"type": "text", "align": "left", "baseline": "alphabetic", "fontSize": 15.5, "dx": 13, "color": "#111"}},
        {"data": {"name": "capSub"}, "mark": {"type": "text", "align": "left", "baseline": "alphabetic", "fontSize": 10.5, "dx": 238, "dy": 5, "color": "#111"}},
        {"data": {"name": "capAfter"}, "mark": {"type": "text", "align": "left", "baseline": "alphabetic", "fontSize": 15.5, "dx": 251, "color": "#111"}}
      ]
    }
  ]
}
